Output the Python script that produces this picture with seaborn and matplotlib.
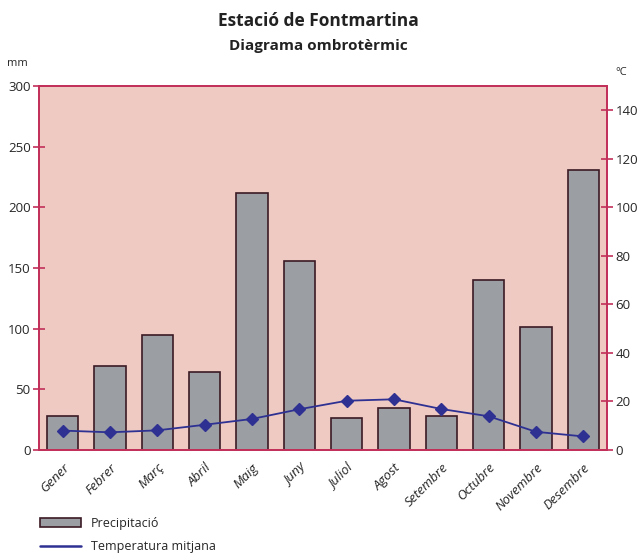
import numpy as np
import pandas as pd
import matplotlib.pyplot as plt
import seaborn as sns
from matplotlib.patches import Patch
from matplotlib.lines import Line2D

# Data
months = ["Gener", "Febrer", "Març", "Abril", "Maig", "Juny",
          "Juliol", "Agost", "Setembre", "Octubre", "Novembre", "Desembre"]
precip = [28, 69, 95, 64, 212, 156, 26, 35, 28, 140, 101, 231]
temp = [8.0, 7.3, 8.1, 10.4, 12.8, 16.8, 20.3, 20.9, 16.9, 13.9, 7.5, 5.6]

df = pd.DataFrame({"Mes": months, "Precipitacio": precip, "Temperatura": temp})

sns.set_style("white")
plt.rcParams['font.family'] = ['Open Sans', 'DejaVu Sans']

axis_col = "#C2305A"
bg_col = "#EFCAC3"
bar_col = "#9B9EA3"
edge_col = "#3B1A24"
line_col = "#2E3192"

fig = plt.figure(figsize=(6.37, 5.54), dpi=100)
ax = fig.add_axes([0.0612, 0.1877, 0.8917, 0.6571])
ax.set_facecolor(bg_col)

sns.barplot(data=df, x="Mes", y="Precipitacio", ax=ax, color=bar_col,
            width=0.66, edgecolor=edge_col, linewidth=1.2, saturation=1)

ax2 = ax.twinx()
sns.pointplot(data=df, x="Mes", y="Temperatura", ax=ax2, color=line_col,
              markers="D", markersize=6.5, linewidth=1.3)

ax.set_xlim(-0.5, 11.5)
ax.set_ylim(0, 300)
ax2.set_ylim(0, 150)

ax.set_yticks(range(0, 301, 50))
ax2.set_yticks(range(0, 141, 20))
ax.set_xlabel("")
ax.set_ylabel("")
ax2.set_ylabel("")

# month labels at centres, tick marks at category boundaries
ax.set_xticks(range(len(months)))
ax.set_xticklabels(months, rotation=45, ha="right", rotation_mode="anchor",
                   fontstyle="italic", fontsize=9.5)
ax.tick_params(axis="x", which="major", length=0, pad=8)
ax.set_xticks(np.arange(-0.5, 12, 1), minor=True)
ax.tick_params(axis="x", which="minor", length=8, direction="inout",
               color=axis_col, width=1.2)

ax.tick_params(axis="y", length=8, direction="inout", color=axis_col,
               width=1.2, labelsize=9.5, pad=2)
ax2.tick_params(axis="y", length=8, direction="inout", color=axis_col,
                width=1.2, labelsize=9.5, pad=2)

for a in (ax, ax2):
    for s in a.spines.values():
        s.set_color(axis_col)
        s.set_linewidth(1.3)

fig.text(0.5, 0.962, "Estació de Fontmartina", ha="center", va="center",
         fontsize=12.5, fontweight="bold", color="#222222")
fig.text(0.5, 0.917, "Diagrama ombrotèrmic", ha="center", va="center",
         fontsize=11, fontweight="bold", color="#222222")
fig.text(0.028, 0.886, "mm", ha="center", va="center", fontsize=8)
fig.text(0.975, 0.87, "°C", ha="center", va="center", fontsize=8)

handles = [Patch(facecolor=bar_col, edgecolor=edge_col, linewidth=1.2),
           Line2D([0], [0], color=line_col, linewidth=1.8)]
fig.legend(handles, ["Precipitació", "Temperatura mitjana"],
           loc="upper left", bbox_to_anchor=(0.063, 0.067), frameon=False,
           fontsize=9, handlelength=3.3, handletextpad=0.75, labelspacing=0.8,
           borderaxespad=0, borderpad=0)

fig.savefig("out.png", dpi=100)
